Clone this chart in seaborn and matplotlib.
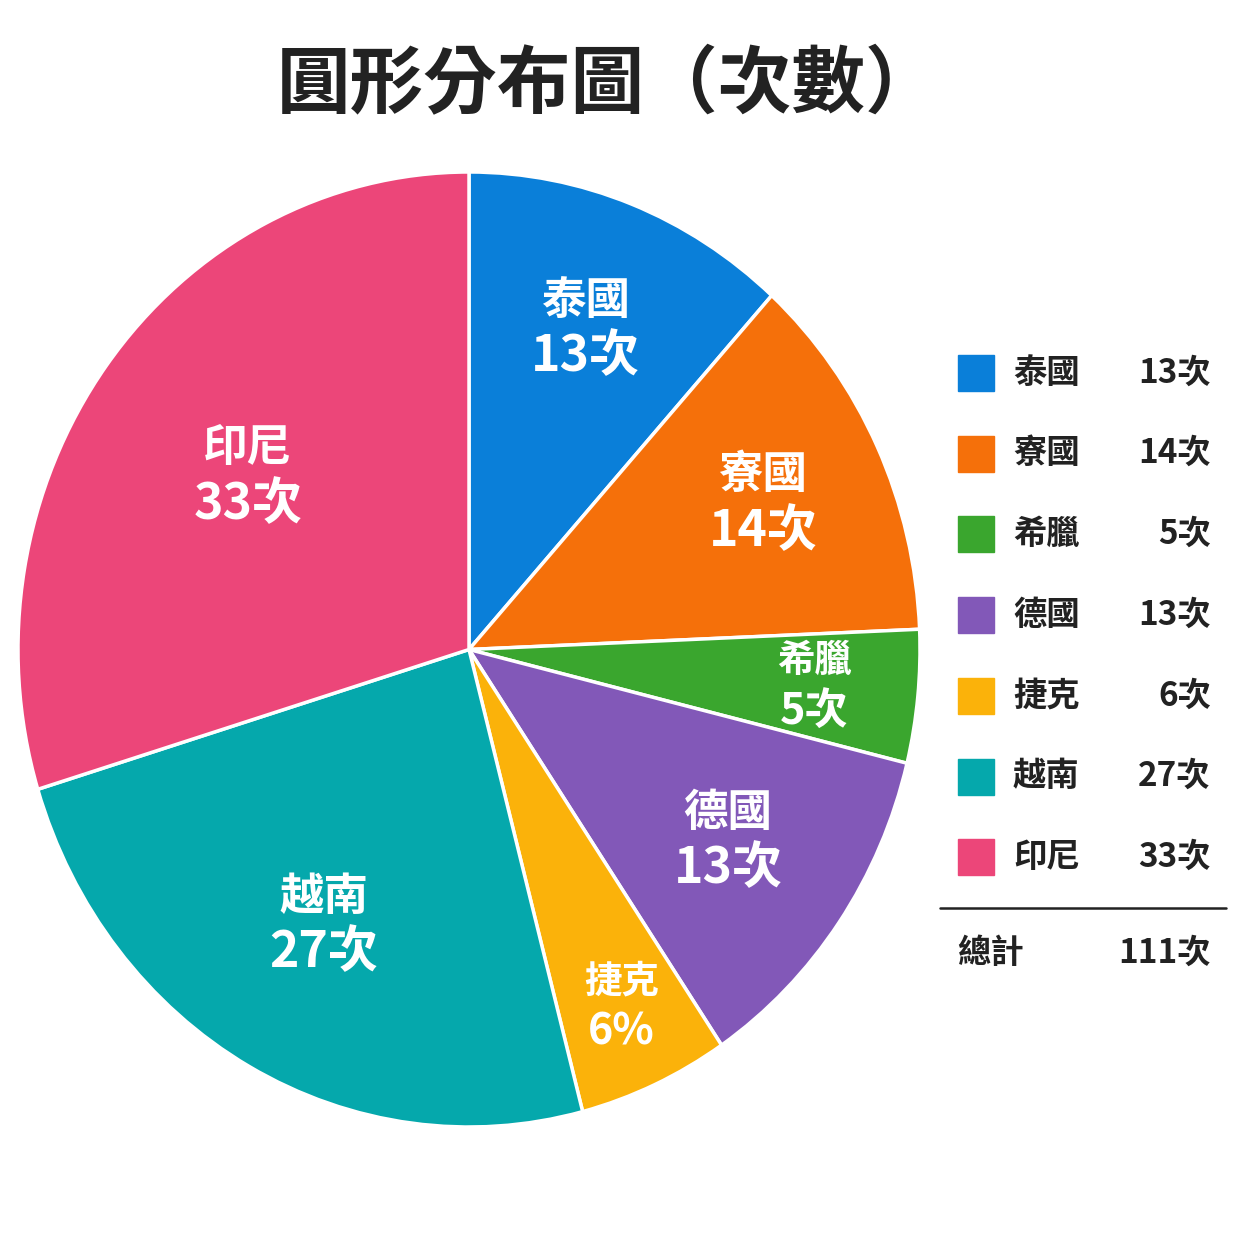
import numpy as np
import seaborn as sns
import matplotlib.pyplot as plt

# data
countries = ['泰國', '寮國', '希臘', '德國', '捷克', '越南', '印尼']
counts = [13, 14, 5, 13, 6, 27, 33]
slice_values = ['13次', '14次', '5次', '13次', '6%', '27次', '33次']
legend_values = ['13次', '14次', '5次', '13次', '6次', '27次', '33次']
total_label = '總計'
total_value = '111次'
colors = ['#0A7FD9', '#F5700A', '#3AA62E', '#8258B8', '#FBB20A', '#05A8AC', '#EC4679']

sns.set_theme(style='white')
plt.rcParams['font.family'] = ['Noto Sans CJK TC', 'DejaVu Sans']
palette = sns.color_palette(colors)

W = H = 1254
fig = plt.figure(figsize=(12.54, 12.54), dpi=100)
fig.patch.set_facecolor('white')

def fx(px):
    return px / W

def fy(py):
    return 1 - py / H

# pie axes (the reference pie is slightly taller than wide)
left, right, top, bottom = 18, 920, 172, 1127
ax = fig.add_axes([fx(left), fy(bottom), fx(right - left), (bottom - top) / H])
wedges, _ = ax.pie(counts, colors=palette, startangle=90, counterclock=False,
                   radius=1, wedgeprops=dict(edgecolor='white', linewidth=2.5))
ax.set_aspect('auto')
ax.set_xlim(-1, 1)
ax.set_ylim(-1, 1)
ax.axis('off')

# label placement inside slices
label_r = [0.72, 0.72, 0.77, 0.70, 0.82, 0.66, 0.61]
name_size = [32, 32, 27, 32, 27, 32, 32]
num_size = [36, 36, 31, 36, 31, 36, 36]
half_gap = 28 / ((bottom - top) / 2)
for w, name, val, r, ns, vs in zip(wedges, countries, slice_values, label_r, name_size, num_size):
    ang = np.deg2rad((w.theta1 + w.theta2) / 2)
    x, y = r * np.cos(ang), r * np.sin(ang)
    gap = half_gap * (0.9 if ns < 30 else 1.0)
    ax.text(x, y + gap, name, ha='center', va='center', color='white',
            fontsize=ns, fontweight='bold')
    ax.text(x, y - gap, val, ha='center', va='center', color='white',
            fontsize=vs, fontweight='bold')

# title
fig.text(fx(608), fy(86), '圓形分布圖（次數）', ha='center', va='center',
         fontsize=53, fontweight='bold', color='#222222')

# legend
row_y0, row_step = 373, 80.7
for i, (name, val, c) in enumerate(zip(countries, legend_values, palette)):
    yc = row_y0 + i * row_step
    fig.patches.append(plt.Rectangle((fx(958), fy(yc + 18)), fx(36), 36 / H,
                                     transform=fig.transFigure, color=c))
    fig.text(fx(1013), fy(yc), name, ha='left', va='center', fontsize=24,
             fontweight='bold', color='#222222')
    fig.text(fx(1211), fy(yc), val, ha='right', va='center', fontsize=24,
             fontweight='bold', color='#222222')

fig.add_artist(plt.Line2D([fx(940), fx(1226)], [fy(908), fy(908)],
                          color='#222222', linewidth=1.8))
fig.text(fx(957), fy(953), total_label, ha='left', va='center', fontsize=24,
         fontweight='bold', color='#222222')
fig.text(fx(1211), fy(953), total_value, ha='right', va='center', fontsize=24,
         fontweight='bold', color='#222222')

fig.savefig('out.png', dpi=100, facecolor='white')
